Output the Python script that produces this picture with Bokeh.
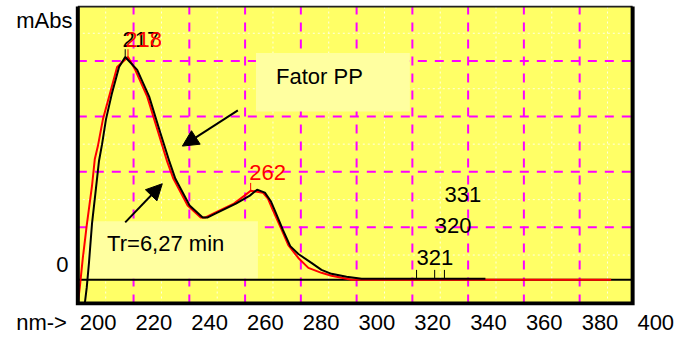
from bokeh.plotting import figure
from bokeh.models import (FixedTicker, CustomJSTickFormatter, Label, Arrow, NormalHead, Range1d)
from bokeh.core.properties import value
from bokeh.embed import file_html
from bokeh.resources import INLINE

# ---------------- data ----------------
red_nm = [200.0, 200.7, 201.8, 203.2, 205.1, 206.1, 207.2, 209.0, 211.6, 214.1, 218.0,
          220.6, 224.9, 228.5, 232.1, 234.3, 239.4, 244.0, 245.8, 248.7, 256.0, 259.8,
          262.0, 266.4, 268.2, 270.0, 272.9, 275.5, 279.1, 282.7, 287.4, 291.0, 298.2, 391.3]
red_mabs = [-42.9, -14.3, 39.3, 98.2, 169.6, 217.9, 241.1, 289.3, 337.5, 383.9, 401.8,
            378.6, 330.4, 271.4, 212.5, 182.1, 133.9, 112.5, 112.5, 119.6, 137.5, 151.8,
            160.7, 157.0, 146.4, 125.0, 92.9, 62.5, 39.3, 21.4, 12.5, 7.1, 0.0, 0.0]

black_nm = [202.5, 203.2, 204.0, 205.1, 206.5, 207.6, 208.7, 210.1, 212.3, 214.8, 217.0,
            221.3, 225.6, 229.2, 232.9, 235.0, 240.1, 244.8, 246.6, 249.5, 256.7, 261.7,
            264.3, 267.1, 269.3, 271.1, 273.6, 276.2, 279.1, 283.8, 287.4, 291.0, 296.4,
            301.8, 346.2]
black_mabs = [-42.9, -14.3, 30.4, 101.8, 164.3, 214.3, 244.6, 289.3, 337.5, 383.9, 401.8,
              378.6, 330.4, 271.4, 212.5, 182.1, 133.9, 112.5, 112.5, 119.6, 137.5, 151.8,
              162.5, 157.1, 141.1, 119.6, 89.3, 60.7, 46.4, 30.4, 17.9, 10.7, 5.4,
              1.8, 1.8]

# peak marks of the black spectrum on the baseline and their labels
black_marks_nm = [321.5, 328.0, 331.5]
black_marks_text = ["321", "320", "331"]

x_tick_values = [200, 220, 240, 260, 280, 300, 320, 340, 360, 380, 400]
x_caption = "nm->"
y_tick_text = ["mAbs", "0"]

# ---------------- figure ----------------
FONT = "Liberation Sans"
FS = "22px"
PX_PER_NM = 2.788
PX_PER_MABS = 0.56

X0, X1 = 172.27, 414.74          # whole canvas width
Y0, Y1 = -46.43, 494.7           # frame from y=5 px to y=308 px
BOX_L, BOX_R, BOX_B, BOX_T = 200.0, 399.0, -42.9, 492.9

p = figure(width=676, height=337, x_range=Range1d(X0, X1), y_range=Range1d(Y0, Y1),
           output_backend="svg", toolbar_location=None, title=None, y_axis_location=None,
           min_border_left=0, min_border_right=0, min_border_top=5, min_border_bottom=29,
           background_fill_color="white", border_fill_color="white")
p.outline_line_color = None
for g in p.grid:
    g.visible = False

# x axis: labels sit to the right of their grid position, caption at the far left
shift = 7.3
cap_pos = 200 - 36.3 / PX_PER_NM
p.xaxis.ticker = FixedTicker(ticks=[cap_pos] + [v + shift for v in x_tick_values])
p.xaxis.formatter = CustomJSTickFormatter(
    code="return tick < 195 ? '%s' : String(Math.round(tick - %s))" % (x_caption, shift))
p.xaxis.axis_line_color = None
p.xaxis.major_tick_line_color = None
p.xaxis.minor_tick_line_color = None
p.xaxis.major_label_text_font = FONT
p.xaxis.major_label_text_font_size = FS
p.xaxis.major_label_text_color = "black"
p.xaxis.major_label_standoff = -2

# plotting area
p.quad(left=[BOX_L], right=[BOX_R], bottom=[BOX_B], top=[BOX_T],
       fill_color="#FFFF66", line_color=None)

# grid lines (restricted to the plotting box)
gx_major = [220 + 20 * k for k in range(9)]
gx_minor = [210 + 20 * k for k in range(10)]
gy_major = [94.6 + 100 * k for k in range(4)]
gy_minor = [44.6 + 100 * k for k in range(5)]
minor = dict(line_color="white", line_alpha=0.8, line_width=1, line_dash="2 3")
major = dict(line_color="#FF00FF", line_width=2, line_dash="9 8")
p.segment(x0=gx_minor, y0=[BOX_B] * len(gx_minor), x1=gx_minor, y1=[BOX_T] * len(gx_minor), **minor)
p.segment(x0=[BOX_L] * len(gy_minor), y0=gy_minor, x1=[BOX_R] * len(gy_minor), y1=gy_minor, **minor)
p.segment(x0=gx_major, y0=[BOX_B] * len(gx_major), x1=gx_major, y1=[BOX_T] * len(gx_major), **major)
p.segment(x0=[BOX_L] * len(gy_major), y0=gy_major, x1=[BOX_R] * len(gy_major), y1=gy_major, **major)

# annotation boxes (behind the curves)
p.quad(left=[263.9, 203.2], right=[319.1, 264.6], bottom=[303.6, 1.8], top=[408.9, 105.4],
       fill_color="#FFFFA0", line_color=None)

# zero line
p.line([BOX_L, BOX_R], [0, 0], line_color="black", line_width=2)

# spectra
p.line(red_nm, red_mabs, line_color="#FF0000", line_width=2)
p.line(black_nm, black_mabs, line_color="black", line_width=2)

# peak markers
ri = red_mabs.index(max(red_mabs))
bi = black_mabs.index(max(black_mabs))
r2 = max(range(len(red_nm)), key=lambda i: red_mabs[i] if red_nm[i] > 250 else -1e9)

p.segment(x0=[black_nm[bi]], y0=[black_mabs[bi]], x1=[black_nm[bi]], y1=[black_mabs[bi] + 14],
          line_color="black", line_width=1)
p.segment(x0=[red_nm[ri], red_nm[r2]], y0=[red_mabs[ri], red_mabs[r2]],
          x1=[red_nm[ri], red_nm[r2]], y1=[red_mabs[ri] + 14, red_mabs[r2] + 14],
          line_color="#FF0000", line_width=1)
base = black_mabs[-1]
p.segment(x0=black_marks_nm, y0=[base] * 3, x1=black_marks_nm, y1=[base + 16] * 3,
          line_color="black", line_width=1)

txt = dict(text_font=value(FONT), text_font_size=FS, text_baseline="middle")
p.text(x=[black_nm[bi] - 1.0], y=[black_mabs[bi]], text=["%d" % round(black_nm[bi])],
       text_color="black", y_offset=-18, text_align="left", **txt)
p.text(x=[red_nm[ri] - 1.0, red_nm[r2] - 0.5], y=[red_mabs[ri], red_mabs[r2]],
       text=["%d" % round(red_nm[ri]), "%d" % round(red_nm[r2])],
       text_color="#FF0000", y_offset=-18, text_align="left", **txt)
p.text(x=black_marks_nm, y=[base] * 3, text=black_marks_text, text_color="black",
       y_offset=[-21, -53, -84], text_align="left", **txt)

# y axis labels ("mAbs" at the top, "0" above the zero line)
p.text(x=[200 - 5.3 / PX_PER_NM, 200 - 9.3 / PX_PER_NM],
       y=[(282 - 20) / PX_PER_MABS, (282 - 267) / PX_PER_MABS],
       text=y_tick_text, text_color="black", text_align="right", **txt)

# plotting box border: thin top, thick left / bottom / right
p.line([BOX_L, BOX_R], [BOX_T, BOX_T], line_color="#202020", line_width=2)
p.line([BOX_L, BOX_L, BOX_R, BOX_R], [BOX_T, BOX_B, BOX_B, BOX_T],
       line_color="black", line_width=4, line_join="miter")

# annotations
lbl = dict(text_font=FONT, text_font_size=FS, text_color="black", text_baseline="middle",
           text_align="left")
p.add_layout(Label(x=271.1, y=367.0, text="Fator PP", **lbl))
p.add_layout(Label(x=210.5, y=65.2, text="Tr=6,27 min", **lbl))
p.add_layout(Arrow(x_start=257.4, y_start=305.4, x_end=237.5, y_end=241.1, line_width=2,
                   line_color="black",
                   end=NormalHead(size=16, fill_color="black", line_color="black")))
p.add_layout(Arrow(x_start=217.0, y_start=103.6, x_end=230.3, y_end=173.2, line_width=2,
                   line_color="black",
                   end=NormalHead(size=16, fill_color="black", line_color="black")))

open("out.html", "w").write(file_html(p, INLINE))
